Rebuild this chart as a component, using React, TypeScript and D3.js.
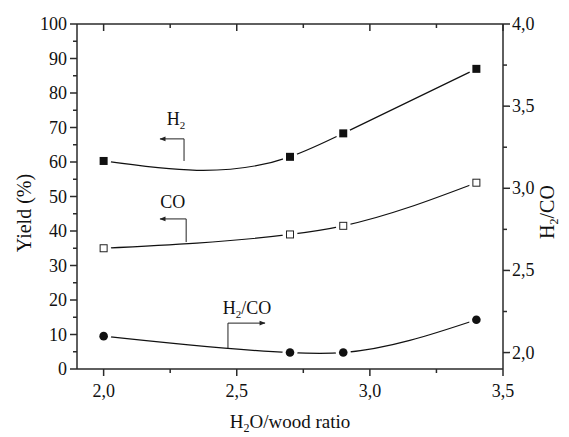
import React from 'react';
import * as d3 from 'd3';

const ratios = [2.0, 2.7, 2.9, 3.4];
const h2Yield = [60.3, 61.5, 68.3, 87.0];
const coYield = [35.0, 39.0, 41.5, 54.0];
const h2coRatio = [2.1, 2.0, 2.0, 2.2];

const xTicks = [2.0, 2.5, 3.0, 3.5];
const xMinorTicks = [2.25, 2.75, 3.25];
const yLeftTicks = [0, 10, 20, 30, 40, 50, 60, 70, 80, 90, 100];
const yLeftMinor = [5, 15, 25, 35, 45, 55, 65, 75, 85, 95];
const yRightTicks = [2.0, 2.5, 3.0, 3.5, 4.0];
const yRightMinor = [2.25, 2.75, 3.25, 3.75];

const W = 569;
const H = 437;
const left = 77, right = 503, top = 24, bottom = 369;
const FONT = '"Liberation Serif", "Times New Roman", serif';
const AX = '#2a2a2a';

const fmt = (v: number) => d3.format('.1f')(v).replace('.', ',');

// Natural cubic spline in x (function form), drawn as bezier segments
function splineX(context: any) {
  let pts: [number, number][] = [];
  return {
    areaStart() {},
    areaEnd() {},
    lineStart() { pts = []; },
    point(px: number, py: number) { pts.push([+px, +py]); },
    lineEnd() {
      const n = pts.length;
      if (n === 0) return;
      context.moveTo(pts[0][0], pts[0][1]);
      if (n < 3) {
        for (let i = 1; i < n; i++) context.lineTo(pts[i][0], pts[i][1]);
        return;
      }
      const xs = pts.map((p) => p[0]);
      const ys = pts.map((p) => p[1]);
      const h: number[] = [];
      for (let i = 0; i < n - 1; i++) h.push(xs[i + 1] - xs[i]);
      // tridiagonal system for second derivatives M (M0 = Mn-1 = 0)
      const m = n - 2;
      const a: number[] = [], b: number[] = [], c: number[] = [], d: number[] = [];
      for (let i = 1; i <= m; i++) {
        a.push(h[i - 1]);
        b.push(2 * (h[i - 1] + h[i]));
        c.push(h[i]);
        d.push(6 * ((ys[i + 1] - ys[i]) / h[i] - (ys[i] - ys[i - 1]) / h[i - 1]));
      }
      for (let i = 1; i < m; i++) {
        const w = a[i] / b[i - 1];
        b[i] -= w * c[i - 1];
        d[i] -= w * d[i - 1];
      }
      const M = new Array(n).fill(0);
      for (let i = m - 1; i >= 0; i--) {
        M[i + 1] = (d[i] - (i < m - 1 ? c[i] * M[i + 2] : 0)) / b[i];
      }
      for (let i = 0; i < n - 1; i++) {
        const hi = h[i];
        const s = (ys[i + 1] - ys[i]) / hi;
        const d0 = s - (hi * (2 * M[i] + M[i + 1])) / 6;
        const d1 = s + (hi * (M[i] + 2 * M[i + 1])) / 6;
        context.bezierCurveTo(
          xs[i] + hi / 3, ys[i] + (d0 * hi) / 3,
          xs[i + 1] - hi / 3, ys[i + 1] - (d1 * hi) / 3,
          xs[i + 1], ys[i + 1]
        );
      }
    },
  };
}

export default function App() {
  const x = d3.scaleLinear().domain([1.9, 3.5]).range([left, right]);
  const yL = d3.scaleLinear().domain([0, 100]).range([bottom, top]);
  const yR = d3.scaleLinear().domain([1.9, 4.0]).range([bottom, top]);

  const line = (ys: number[], sc: d3.ScaleLinear<number, number>) =>
    d3.line<number>()
      .x((_, i) => x(ratios[i]))
      .y((d) => sc(d))
      .curve(splineX as any)(ys) || '';

  const sq = 8;
  const halo = 7.5;

  return (
    <svg width={W} height={H} style={{ position: 'absolute', left: 0, top: 0, background: '#fff' }} fontFamily={FONT}>
      <defs>
        <marker id="ah" viewBox="0 0 10 10" refX="9" refY="5" markerWidth="8" markerHeight="6" markerUnits="userSpaceOnUse" orient="auto">
          <path d="M0,1 L10,5 L0,9 Z" fill="#222" />
        </marker>
      </defs>
      <rect x={0} y={0} width={W} height={H} fill="#fff" />

      {/* curves */}
      <path d={line(h2Yield, yL)} fill="none" stroke="#111" strokeWidth={1.2} />
      <path d={line(coYield, yL)} fill="none" stroke="#111" strokeWidth={1.2} />
      <path d={line(h2coRatio, yR)} fill="none" stroke="#111" strokeWidth={1.2} />

      {/* halos */}
      {ratios.map((r, i) => (
        <g key={'h' + i}>
          <circle cx={x(r)} cy={yL(h2Yield[i])} r={halo} fill="#fff" />
          <circle cx={x(r)} cy={yL(coYield[i])} r={halo} fill="#fff" />
          <circle cx={x(r)} cy={yR(h2coRatio[i])} r={halo} fill="#fff" />
        </g>
      ))}

      {/* markers */}
      {ratios.map((r, i) => (
        <g key={'m' + i}>
          <rect x={x(r) - sq / 2} y={yL(h2Yield[i]) - sq / 2} width={sq} height={sq} fill="#111" />
          <rect x={x(r) - sq / 2 + 0.5} y={yL(coYield[i]) - sq / 2 + 0.5} width={sq - 1} height={sq - 1} fill="#fff" stroke="#222" strokeWidth={1} />
          <circle cx={x(r)} cy={yR(h2coRatio[i])} r={4.3} fill="#111" />
        </g>
      ))}

      {/* annotations */}
      <path d={`M${x(2.302)},${yL(60.3)} V${yL(66.7)} H${x(2.212)}`} fill="none" stroke="#222" strokeWidth={1} markerEnd="url(#ah)" />
      <text x={x(2.272)} y={125} fontSize={18} textAnchor="middle" fill="#111">
        H<tspan fontSize={11} dy={4}>2</tspan>
      </text>

      <path d={`M${x(2.31)},${yL(36.8)} V${yL(43.5)} H${x(2.212)}`} fill="none" stroke="#222" strokeWidth={1} markerEnd="url(#ah)" />
      <text x={x(2.26)} y={208} fontSize={18} textAnchor="middle" fill="#111">CO</text>

      <path d={`M${x(2.467)},${yL(6.0)} V${yL(13.3)} H${x(2.606)}`} fill="none" stroke="#222" strokeWidth={1} markerEnd="url(#ah)" />
      <text x={247} y={314} fontSize={18} textAnchor="middle" fill="#111">
        H<tspan fontSize={11} dy={4}>2</tspan><tspan dy={-4}>/CO</tspan>
      </text>

      {/* axes frame */}
      <line x1={left} x2={right} y1={bottom} y2={bottom} stroke={AX} strokeWidth={1.5} />
      <line x1={left} x2={right} y1={top} y2={top} stroke={AX} strokeWidth={1.5} />
      <line x1={left} x2={left} y1={top} y2={bottom} stroke={AX} strokeWidth={1.5} />
      <line x1={right} x2={right} y1={top} y2={bottom} stroke={AX} strokeWidth={1.5} />

      {/* bottom ticks */}
      {xTicks.map((t) => (
        <g key={'xt' + t}>
          <line x1={x(t)} x2={x(t)} y1={bottom} y2={bottom + 7} stroke={AX} strokeWidth={1.5} />
          <line x1={x(t)} x2={x(t)} y1={top} y2={top + 7} stroke={AX} strokeWidth={1.5} />
          <text x={x(t)} y={397} fontSize={18} textAnchor="middle" fill="#111">{fmt(t)}</text>
        </g>
      ))}
      {xMinorTicks.map((t) => (
        <g key={'xm' + t}>
          <line x1={x(t)} x2={x(t)} y1={bottom} y2={bottom + 4} stroke={AX} strokeWidth={1.5} />
          <line x1={x(t)} x2={x(t)} y1={top} y2={top + 4} stroke={AX} strokeWidth={1.5} />
        </g>
      ))}

      {/* left ticks */}
      {yLeftTicks.map((t) => (
        <g key={'yl' + t}>
          <line x1={left - 7} x2={left} y1={yL(t)} y2={yL(t)} stroke={AX} strokeWidth={1.5} />
          <text x={left - 10} y={yL(t) + 6} fontSize={18} textAnchor="end" fill="#111">{t}</text>
        </g>
      ))}
      {yLeftMinor.map((t) => (
        <line key={'ylm' + t} x1={left - 4} x2={left} y1={yL(t)} y2={yL(t)} stroke={AX} strokeWidth={1.5} />
      ))}

      {/* right ticks */}
      {yRightTicks.map((t) => (
        <g key={'yr' + t}>
          <line x1={right} x2={right + 7} y1={yR(t)} y2={yR(t)} stroke={AX} strokeWidth={1.5} />
          <text x={right + 9} y={yR(t) + 6} fontSize={18} textAnchor="start" fill="#111">{fmt(t)}</text>
        </g>
      ))}
      {yRightMinor.map((t) => (
        <line key={'yrm' + t} x1={right} x2={right + 4} y1={yR(t)} y2={yR(t)} stroke={AX} strokeWidth={1.5} />
      ))}

      {/* axis titles */}
      <text x={290} y={428} fontSize={19} textAnchor="middle" fill="#111">
        H<tspan fontSize={12} dy={4}>2</tspan><tspan dy={-4}>O/wood ratio</tspan>
      </text>
      <text transform={`translate(31,${213}) rotate(-90)`} fontSize={20} textAnchor="middle" fill="#111">Yield (%)</text>
      <text transform={`translate(554,${212}) rotate(-90)`} fontSize={20} textAnchor="middle" fill="#111">
        H<tspan fontSize={12} dy={4}>2</tspan><tspan dy={-4}>/CO</tspan>
      </text>
    </svg>
  );
}
